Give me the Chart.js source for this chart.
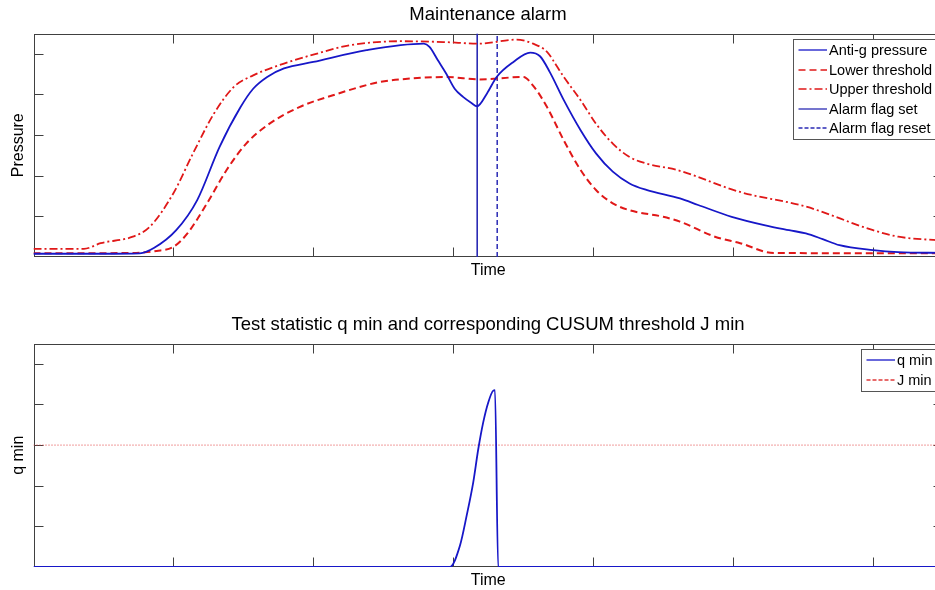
<!DOCTYPE html>
<html>
<head>
<meta charset="utf-8">
<script src="https://cdn.jsdelivr.net/npm/chart.js@4.4.1/dist/chart.umd.min.js"></script>
<style>
  html, body { margin: 0; padding: 0; background: #fff; overflow: hidden; }
  body { width: 935px; height: 590px; position: relative; }
  canvas { position: absolute; left: 0; }
  #topChart { top: 0; }
  #bottomChart { top: 310px; }
</style>
</head>
<body>
<canvas id="topChart" width="976" height="310"></canvas>
<canvas id="bottomChart" width="976" height="310"></canvas>
<script>
// time runs 0..6.5 and the values 0..5.5 (no tick labels in the original)
const pressureTime = [0, 0.5, 0.76, 0.86, 1.02, 1.17, 1.33, 1.48, 1.57, 1.67, 1.79, 2.0, 2.38, 2.79, 2.83, 2.89, 2.95, 3.01, 3.07, 3.13, 3.17, 3.24, 3.31, 3.43, 3.55, 3.62, 3.69, 3.79, 3.91, 4.02, 4.14, 4.26, 4.38, 4.62, 4.75, 4.99, 5.23, 5.40, 5.52, 5.64, 5.76, 6.0, 6.18, 6.5];
const pressureValues = [0.08, 0.08, 0.09, 0.22, 0.66, 1.40, 2.71, 3.69, 4.14, 4.43, 4.64, 4.80, 5.09, 5.25, 5.17, 4.84, 4.51, 4.14, 3.94, 3.79, 3.71, 4.02, 4.43, 4.80, 5.03, 4.94, 4.55, 3.86, 3.12, 2.55, 2.10, 1.81, 1.65, 1.44, 1.28, 0.99, 0.78, 0.66, 0.58, 0.44, 0.29, 0.17, 0.12, 0.10];

const lowerTime = [0, 0.7, 0.88, 1.0, 1.10, 1.24, 1.38, 1.52, 1.67, 1.90, 2.14, 2.38, 2.48, 2.62, 2.95, 3.19, 3.50, 3.57, 3.67, 3.79, 3.91, 4.02, 4.14, 4.26, 4.50, 4.62, 4.87, 5.05, 5.29, 6.5];
const lowerValues = [0.09, 0.10, 0.15, 0.25, 0.58, 1.32, 2.14, 2.79, 3.24, 3.69, 3.98, 4.23, 4.31, 4.37, 4.43, 4.37, 4.43, 4.22, 3.69, 2.87, 2.14, 1.65, 1.32, 1.15, 0.99, 0.87, 0.50, 0.34, 0.10, 0.09];

const upperTime = [0, 0.36, 0.48, 0.71, 0.83, 1.0, 1.14, 1.29, 1.43, 1.57, 1.79, 2.02, 2.26, 2.62, 2.93, 3.19, 3.45, 3.57, 3.67, 3.73, 3.79, 3.91, 4.02, 4.14, 4.26, 4.38, 4.60, 5.05, 5.52, 6.0, 6.18, 6.43, 6.5];
const upperValues = [0.20, 0.20, 0.34, 0.50, 0.74, 1.57, 2.55, 3.53, 4.18, 4.47, 4.76, 5.00, 5.21, 5.31, 5.29, 5.25, 5.35, 5.25, 5.05, 4.75, 4.43, 3.86, 3.28, 2.79, 2.46, 2.30, 2.14, 1.60, 1.24, 0.66, 0.50, 0.42, 0.41];

const alarmSetTime = 3.171;
const alarmResetTime = 3.314;

const qminTime = [0, 2.976, 3.048, 3.096, 3.143, 3.179, 3.214, 3.25, 3.286, 3.298, 3.321, 6.5];
const qminValues = [0, 0, 0.53, 1.27, 2.09, 2.91, 3.56, 4.05, 4.34, 4.35, 0, 0];

const jminTime = [0, 6.5];
const jminValues = [3, 3];

const timeRange = [0, 6.5];
const valueRange = [0, 5.5];

const FONT = '"Liberation Sans", Arial, Helvetica, sans-serif';
Chart.defaults.font.family = FONT;
Chart.defaults.color = '#000';

function pts(xs, ys) {
    return xs.map((x, i) => ({ x: x, y: ys[i] }));
}

// MATLAB style box with tick marks pointing inwards on all four sides
const boxPlugin = {
    id: 'matlabBox',
    beforeDatasetsDraw(chart) {
        const { ctx, chartArea: a, scales } = chart;
        const L = Math.round(a.left) + 0.5, R = Math.round(a.right) - 0.5;
        const T = Math.round(a.top) + 0.5, B = Math.round(a.bottom) - 0.5;
        const tl = 9;
        ctx.save();
        ctx.strokeStyle = '#404040';
        ctx.lineWidth = 1;
        ctx.beginPath();
        scales.x.ticks.forEach(t => {
            if (t.value <= scales.x.min || t.value >= scales.x.max) return;
            const px = Math.round(scales.x.getPixelForValue(t.value)) + 0.5;
            ctx.moveTo(px, B); ctx.lineTo(px, B - tl);
            ctx.moveTo(px, T); ctx.lineTo(px, T + tl);
        });
        scales.y.ticks.forEach(t => {
            if (t.value <= scales.y.min || t.value >= scales.y.max) return;
            const py = Math.round(scales.y.getPixelForValue(t.value)) + 0.5;
            ctx.moveTo(L, py); ctx.lineTo(L + tl, py);
            ctx.moveTo(R, py); ctx.lineTo(R - tl, py);
        });
        ctx.stroke();
        ctx.strokeRect(L, T, R - L, B - T);
        ctx.restore();
    }
};

const legendPlugin = {
    id: 'boxLegend',
    afterDraw(chart) {
        const items = chart.data.datasets.filter(d => d.label);
        const { ctx, chartArea: a } = chart;
        ctx.save();
        ctx.font = '14.5px ' + FONT;
        const textW = Math.max(...items.map(d => ctx.measureText(d.label).width));
        const rowH = 19.5;
        const w = Math.round(36 + textW + 6), h = Math.round(items.length * rowH + 2.5);
        const x = Math.round(a.right - 5 - w) + 0.5, y = Math.round(a.top + 5.5) + 0.5;
        ctx.fillStyle = '#fff';
        ctx.fillRect(x, y, w, h);
        ctx.strokeStyle = '#555';
        ctx.lineWidth = 1;
        ctx.strokeRect(x, y, w, h);
        items.forEach((d, i) => {
            const cy = Math.round(y + 10.5 + i * rowH);
            ctx.strokeStyle = d.legendColor || d.borderColor;
            ctx.lineWidth = 1.3;
            ctx.setLineDash(d.legendDash || d.borderDash || []);
            ctx.beginPath();
            ctx.moveTo(x + 5, cy);
            ctx.lineTo(x + 33.5, cy);
            ctx.stroke();
            ctx.setLineDash([]);
            ctx.fillStyle = '#000';
            ctx.textBaseline = 'middle';
            ctx.fillText(d.label, x + 35.5, cy + 0.5);
        });
        ctx.restore();
    }
};

function makeChart(canvasId, titleText, yTitle, datasets) {
    return new Chart(document.getElementById(canvasId).getContext('2d'), {
        type: 'line',
        data: { datasets: datasets },
        options: {
            responsive: false,
            animation: false,
            devicePixelRatio: 1,
            layout: { padding: 0 },
            elements: { point: { radius: 0, hoverRadius: 0 } },
            plugins: {
                legend: { display: false },
                tooltip: { enabled: false },
                title: {
                    display: true,
                    text: titleText,
                    color: '#000',
                    font: { size: 18.5, weight: 'normal' },
                    padding: { top: 3.6, bottom: 7.7 }
                }
            },
            scales: {
                x: {
                    type: 'linear',
                    min: timeRange[0],
                    max: timeRange[1],
                    ticks: { display: false, stepSize: 1 },
                    grid: { display: false },
                    border: { display: false },
                    title: { display: true, text: 'Time', font: { size: 16 }, padding: { top: 0, bottom: 29.4 } },
                    afterFit: s => { s.height = 53; }
                },
                y: {
                    min: valueRange[0],
                    max: valueRange[1],
                    ticks: { display: false, stepSize: 1 },
                    grid: { display: false },
                    border: { display: false },
                    title: { display: true, text: yTitle, font: { size: 16 }, padding: { top: 9, bottom: 0 } },
                    afterFit: s => { s.width = 33.5; }
                },
                y2: {
                    position: 'right',
                    display: true,
                    ticks: { display: false },
                    grid: { display: false },
                    border: { display: false },
                    afterFit: s => { s.width = 33; }
                }
            }
        },
        plugins: [boxPlugin, legendPlugin]
    });
}

const BLUE = '#1717c8';
const RED = '#e01818';

makeChart('topChart', 'Maintenance alarm', 'Pressure', [
    { label: 'Anti-g pressure', data: pts(pressureTime, pressureValues), borderColor: BLUE, borderWidth: 1.8, cubicInterpolationMode: 'monotone' },
    { label: 'Lower threshold', data: pts(lowerTime, lowerValues), borderColor: RED, borderWidth: 2, borderDash: [7, 4], cubicInterpolationMode: 'monotone' },
    { label: 'Upper threshold', data: pts(upperTime, upperValues), borderColor: RED, borderWidth: 1.8, borderDash: [8, 3, 2, 3], cubicInterpolationMode: 'monotone' },
    { label: 'Alarm flag set', data: pts([alarmSetTime, alarmSetTime], valueRange), borderColor: '#2a2ab4', borderWidth: 1.6, tension: 0 },
    { label: 'Alarm flag reset', data: pts([alarmResetTime, alarmResetTime], valueRange), borderColor: '#2a2ab4', borderWidth: 1.5, borderDash: [5, 3], legendDash: [4, 2], tension: 0 }
]);

makeChart('bottomChart', 'Test statistic q min and corresponding CUSUM threshold J min', 'q min', [
    { label: 'q min', data: pts(qminTime, qminValues), borderColor: BLUE, borderWidth: 1.8, cubicInterpolationMode: 'monotone', order: 0 },
    { label: 'J min', data: pts(jminTime, jminValues), borderColor: '#e03a3a', borderWidth: 1, borderDash: [1, 2], legendDash: [4, 2], tension: 0, order: 1 }
]);
</script>
</body>
</html>
